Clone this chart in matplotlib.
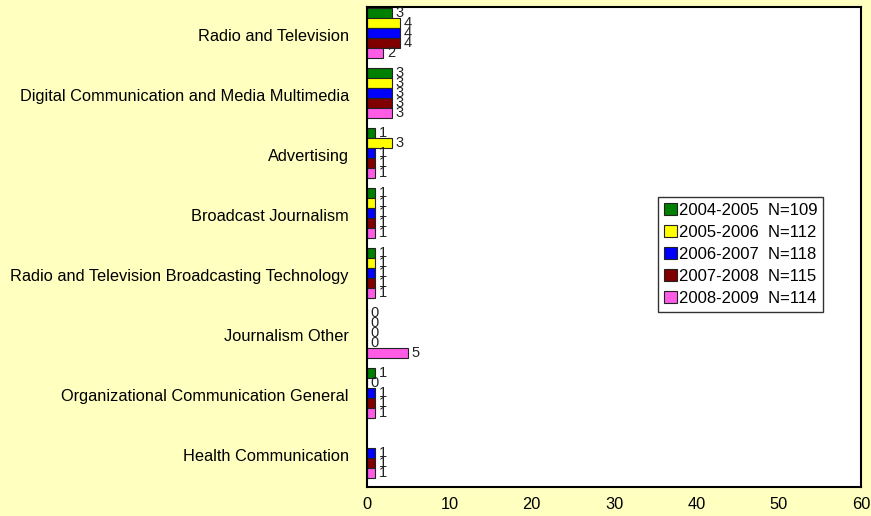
import numpy as np
import matplotlib.pyplot as plt

plt.rcParams['font.family'] = ['Liberation Sans', 'DejaVu Sans']

categories = ['Radio and Television',
              'Digital Communication and Media Multimedia',
              'Advertising',
              'Broadcast Journalism',
              'Radio and Television Broadcasting Technology',
              'Journalism Other',
              'Organizational Communication General',
              'Health Communication']
series = ['2004-2005  N=109', '2005-2006  N=112', '2006-2007  N=118',
          '2007-2008  N=115', '2008-2009  N=114']
colors = ['#008000', '#FFFF00', '#0000FF', '#800000', '#FF5CE6']
# None = no bar / no label in the original
values = [
    [3, 3, 1, 1, 1, 0, 1, None],
    [4, 3, 3, 1, 1, 0, 0, None],
    [4, 3, 1, 1, 1, 0, 1, 1],
    [4, 3, 1, 1, 1, 0, 1, 1],
    [2, 3, 1, 1, 1, 5, 1, 1],
]

fig = plt.figure(figsize=(8.71, 5.16), dpi=100, facecolor='#FFFFC0')
ax = fig.add_axes([367/871, 1-487/516, 494/871, 480/516])
ax.set_facecolor('white')

h = 1/6
y = np.arange(len(categories))
for j, (name, col, vals) in enumerate(zip(series, colors, values)):
    pos = y + (j-2)*h - 0.06
    v = np.array([np.nan if x is None else x for x in vals], dtype=float)
    ax.barh(pos, v, height=h, color=col, edgecolor='#222222', linewidth=0.8, label=name)
    for p, x in zip(pos, vals):
        if x is None:
            continue
        ax.text(x + 0.4, p, str(x), va='center', ha='left', fontsize=10.5, color='#222222')

ax.set_ylim(len(categories)-0.5, -0.5)
ax.set_xlim(0, 60)
ax.set_xticks(range(0, 61, 10))
ax.set_yticks(y - 0.04)
ax.set_yticklabels(categories, fontsize=11.8)
ax.tick_params(axis='y', length=0, pad=13)
ax.tick_params(axis='x', length=0, pad=7, labelsize=11.8)
for s in ax.spines.values():
    s.set_linewidth(1.5)

leg = ax.legend(loc='upper left', bbox_to_anchor=(0.589, 0.604), fontsize=12,
                frameon=True, fancybox=False, handlelength=0.8, handleheight=0.7,
                handletextpad=0.1, labelspacing=0.42, borderpad=0.35, borderaxespad=0)
leg.get_frame().set_edgecolor('black')
leg.get_frame().set_linewidth(1)

fig.savefig('out.png', dpi=100, facecolor=fig.get_facecolor())
